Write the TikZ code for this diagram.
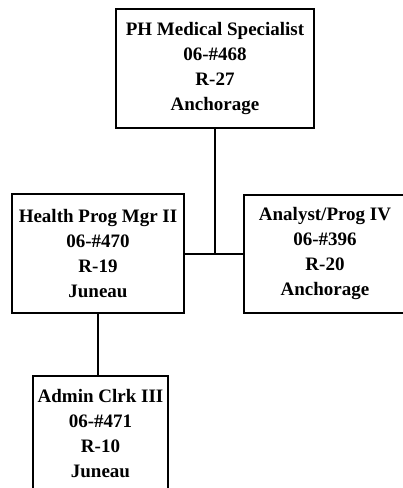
\documentclass[tikz,border=0pt]{standalone}
\usepackage{fontspec}
\setmainfont{Liberation Serif}
\usepackage{tikz}
\usetikzlibrary{positioning}

\begin{document}
\begin{tikzpicture}[
    x=1pt, y=1pt,
    node distance = 60pt and 58pt,
    post/.style = {draw, line width=2pt, inner sep=0pt, align=center,
                   minimum height=119pt,
                   font=\fontsize{19}{25}\selectfont\bfseries},
    conn/.style = {line width=2pt},
  ]
  \useasboundingbox (0,0) rectangle (403,-488);

  %% Top position
  \node[post, minimum width=198pt] (spec) at (215,-68.5)
        {PH Medical Specialist\\06-\#468\\R-27\\Anchorage};

  %% Second row
  \node[post, minimum width=172pt,
        below left=64pt and -70pt of spec] (mgr)
        {Health Prog Mgr II\\06-\#470\\R-19\\Juneau};
  \node[post, minimum width=162pt, minimum height=118pt,
        right=58pt of mgr] (analyst)
        {Analyst/Prog IV\\06-\#396\\R-20\\Anchorage};

  %% Bottom position
  \node[post, minimum width=135pt, minimum height=115pt,
        below=61pt of mgr, xshift=2.5pt] (clerk)
        {Admin Clrk III\\06-\#471\\R-10\\Juneau};

  %% Connectors
  \draw[conn] (spec.south) -- (spec.south |- mgr.east);
  \draw[conn] (mgr.east) -- (analyst.west);
  \draw[conn] (mgr.south) -- (mgr.south |- clerk.north);

\end{tikzpicture}
\end{document}
